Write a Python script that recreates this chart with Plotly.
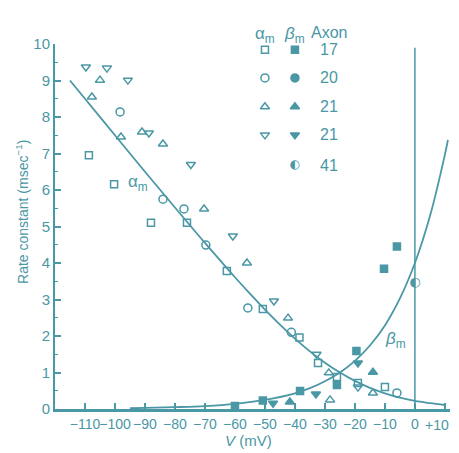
import plotly.graph_objects as go

TEAL = "#4a97a5"
FONT = "Liberation Sans Narrow, Liberation Sans, Arial, sans-serif"

# Fitted curves
alpha_curve_v = [-115, -110, -100, -90, -80, -70, -60, -55, -50, -45, -40, -35, -30, -25, -20, -15, -10, -5, 0, 5, 10]
alpha_curve_r = [9.0, 8.5, 7.5, 6.5, 5.52, 4.55, 3.61, 3.16, 2.72, 2.31, 1.93, 1.58, 1.27, 1.0, 0.77, 0.58, 0.43, 0.31, 0.22, 0.16, 0.11]
beta_curve_v = [-95, -90, -80, -70, -60, -50, -40, -35, -30, -25, -20, -15, -10, -5, 0, 5, 10, 11]
beta_curve_r = [0.02, 0.03, 0.05, 0.08, 0.14, 0.25, 0.43, 0.57, 0.76, 1.0, 1.32, 1.74, 2.29, 3.03, 4.0, 5.28, 6.97, 7.37]

# alpha_m data
am17_v = [-108.7, -100.3, -88, -76, -62.7, -50.7, -38.5, -32.3, -26, -19, -10]
am17_r = [6.95, 6.16, 5.1, 5.1, 3.78, 2.74, 1.96, 1.26, 0.88, 0.71, 0.6]
am20_v = [-98.3, -84, -77, -69.7, -55.7, -41.2, -6]
am20_r = [8.14, 5.75, 5.48, 4.49, 2.77, 2.1, 0.44]
am21a_v = [-105, -107.7, -98, -91, -84, -70.3, -56, -42.3, -28.7, -14, -28.3]
am21a_r = [9.01, 8.55, 7.45, 7.59, 7.26, 5.48, 4.0, 2.49, 0.99, 0.44, 0.25]
am21b_v = [-109.7, -102.7, -95.7, -88.7, -74.7, -60.7, -47, -32.8, -19]
am21b_r = [9.37, 9.34, 9.01, 7.56, 6.7, 4.74, 2.96, 1.5, 0.6]

# beta_m data
bm17_v = [-60, -50.7, -38.3, -26, -19.5, -10.3, -6]
bm17_r = [0.08, 0.23, 0.49, 0.66, 1.59, 3.84, 4.45]
bm21a_v = [-41.7, -14]
bm21a_r = [0.19, 1.01]
bm21b_v = [-47.3, -33, -19]
bm21b_r = [0.16, 0.41, 1.26]
bm41_v = [0]
bm41_r = [3.45]

x_ticks = [-110, -100, -90, -80, -70, -60, -50, -40, -30, -20, -10, 0, 10]
x_ticktext = ["−110", "−100", "−90", "−80", "−70", "−60", "−50", "−40", "−30", "−20", "−10", "0", "+10"]
y_ticks = [0, 1, 2, 3, 4, 5, 6, 7, 8, 9, 10]

legend_axons = ["17", "20", "21", "21", "41"]
legend_alpha_sym = ["square-open", "circle-open", "triangle-up-open", "triangle-down-open", None]
legend_beta_sym = ["square", "circle", "triangle-up", "triangle-down", "half"]

fig = go.Figure()

fig.add_trace(go.Scatter(x=alpha_curve_v, y=alpha_curve_r, mode="lines",
                         line=dict(color=TEAL, width=1.8, shape="spline"), hoverinfo="skip"))
fig.add_trace(go.Scatter(x=beta_curve_v, y=beta_curve_r, mode="lines",
                         line=dict(color=TEAL, width=1.8, shape="spline"), hoverinfo="skip"))

def pts(v, r, sym, size):
    fig.add_trace(go.Scatter(x=v, y=r, mode="markers", cliponaxis=False,
                             marker=dict(symbol=sym, size=size, color=TEAL,
                                         line=dict(color=TEAL, width=1.5))))

pts(am17_v, am17_r, "square-open", 7)
pts(am20_v, am20_r, "circle-open", 8)
pts(am21a_v, am21a_r, "triangle-up-open", 8)
pts(am21b_v, am21b_r, "triangle-down-open", 8)
pts(bm17_v, bm17_r, "square", 7)
pts(bm21a_v, bm21a_r, "triangle-up", 8)
pts(bm21b_v, bm21b_r, "triangle-down", 8)
fig.add_trace(go.Scatter(x=bm41_v, y=bm41_r, mode="text", text=["◐"], cliponaxis=False,
                         textfont=dict(color=TEAL, size=13, family="DejaVu Sans")))

# legend block
leg_rows = [9.84, 9.07, 8.28, 7.51, 6.68]
leg_ax, leg_bx, leg_nx = -50, -40, -28.5
for i, axon in enumerate(legend_axons):
    y = leg_rows[i]
    a = legend_alpha_sym[i]
    b = legend_beta_sym[i]
    if a:
        pts([leg_ax], [y], a, 7 if "square" in a else 8)
    if b == "half":
        fig.add_trace(go.Scatter(x=[leg_bx], y=[y], mode="text", text=["◐"], cliponaxis=False,
                                 textfont=dict(color=TEAL, size=12, family="DejaVu Sans")))
    else:
        pts([leg_bx], [y], b, 7 if "square" in b else 8)
    fig.add_annotation(x=leg_nx, y=y, text=axon, showarrow=False,
                       font=dict(color=TEAL, size=16, family=FONT))

HEAD_Y = 1.06
fig.add_annotation(x=leg_ax, y=HEAD_Y, yref="paper", text="α<sub>m</sub>", showarrow=False,
                   font=dict(color=TEAL, size=17, family=FONT))
fig.add_annotation(x=leg_bx, y=HEAD_Y, yref="paper", text="<i>β</i><sub>m</sub>", showarrow=False,
                   font=dict(color=TEAL, size=17, family=FONT))
fig.add_annotation(x=leg_nx, y=HEAD_Y, yref="paper", text="Axon", showarrow=False,
                   font=dict(color=TEAL, size=16, family=FONT))

fig.add_annotation(x=-92.3, y=6.19, text="α<sub>m</sub>", showarrow=False,
                   font=dict(color=TEAL, size=17, family=FONT))
fig.add_annotation(x=-6.5, y=1.9, text="<i>β</i><sub>m</sub>", showarrow=False,
                   font=dict(color=TEAL, size=17, family=FONT))

# the last tick label sits slightly left of its tick in the original
x_ticktext_drawn = x_ticktext[:-1] + [""]
fig.add_annotation(x=x_ticks[-1] - 2.7, y=-0.044, yref="paper", text=x_ticktext[-1],
                   showarrow=False, yanchor="middle",
                   font=dict(color=TEAL, size=14, family=FONT))

# axis titles
fig.add_annotation(x=0.49, y=-0.085, xref="paper", yref="paper", text="<i>V</i> (mV)",
                   showarrow=False, yanchor="middle",
                   font=dict(color=TEAL, size=15, family=FONT))
fig.add_annotation(x=-0.0835, y=0.54, xref="paper", yref="paper", textangle=-90,
                   text="Rate constant (msec<sup>−1</sup>)", showarrow=False,
                   xanchor="center", yanchor="middle",
                   font=dict(color=TEAL, size=14, family=FONT))

fig.add_shape(type="line", x0=0, x1=0, y0=0, y1=9.9, xref="x", yref="y",
              line=dict(color=TEAL, width=1.5))

# page body adds an 8px offset, so the figure is sized/margined to compensate
fig.update_layout(
    width=451, height=445,
    margin=dict(l=47, r=9, t=36, b=44),
    paper_bgcolor="white", plot_bgcolor="white",
    showlegend=False,
    font=dict(family=FONT, color=TEAL, size=14),
    xaxis=dict(range=[-120, 11.7], showline=True, linecolor=TEAL, linewidth=2.5,
               ticks="inside", ticklen=6, tickwidth=1.5, tickcolor=TEAL,
               tickvals=x_ticks, ticktext=x_ticktext_drawn, tickangle=0, automargin=False,
               showgrid=False, zeroline=False,
               tickfont=dict(size=14, color=TEAL, family=FONT)),
    yaxis=dict(range=[0, 10], showline=True, linecolor=TEAL, linewidth=2,
               ticks="inside", ticklen=6, tickwidth=1.5, tickcolor=TEAL, automargin=False,
               tickvals=y_ticks, showgrid=False, zeroline=False,
               minor=dict(ticks="inside", ticklen=3, tickwidth=1, tickcolor=TEAL, dtick=0.5),
               tickfont=dict(size=15, color=TEAL, family=FONT)),
)

fig.write_html("out.html")
